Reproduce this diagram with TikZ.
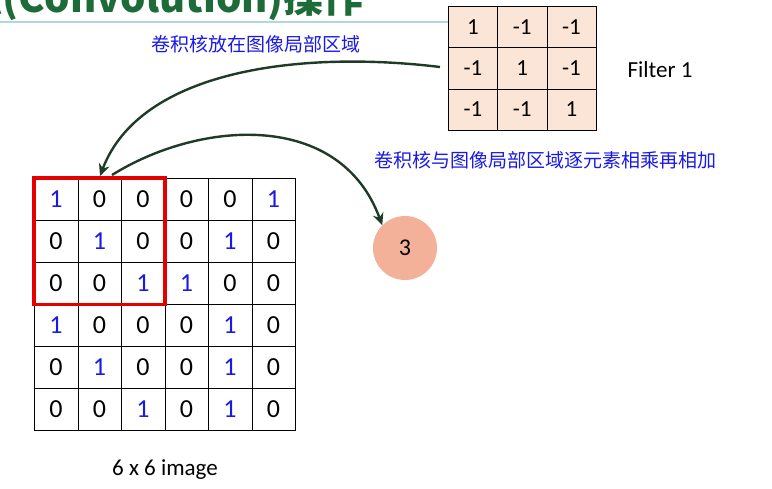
\documentclass[tikz,border=0pt]{standalone}
\usepackage{fontspec}
\setmainfont{Carlito}
\newfontfamily\cjk{Noto Sans CJK SC}
\usetikzlibrary{arrows.meta}
\definecolor{bl}{HTML}{1A1AE6}
\definecolor{pe}{HTML}{FBE5D6}
\definecolor{ci}{HTML}{F4B19A}
\definecolor{ar}{HTML}{1E3B28}
\definecolor{tg}{HTML}{1E6B3A}
\begin{document}
\begin{tikzpicture}[x=1pt,y=-1pt,
  cell/.style={draw,minimum width=43.5pt,minimum height=42pt,inner sep=0pt,font=\fontsize{26}{26}\selectfont,anchor=north west},
  fcell/.style={draw,fill=pe,minimum width=49.3pt,minimum height=41.3pt,inner sep=0pt,font=\fontsize{23}{23}\selectfont,anchor=north west},
  lab/.style={text=bl,font=\cjk\fontsize{19}{19}\selectfont},
  arr/.style={draw=ar,line width=2.4pt,-{Stealth[length=12pt,width=11pt]}}]
\useasboundingbox (0,0) rectangle (772,488);
\begin{scope}
\clip (0,0) rectangle (772,488);
\node[anchor=base west,text=tg,font=\cjk\bfseries\fontsize{40}{40}\selectfont,inner sep=0pt] (title) at (-38,12) {积(Convolution)操作};
\end{scope}
\draw[draw=teal!30,line width=2pt] (0,22) -- (460,22);
\foreach \r/\row in {0/{1,0,0,0,0,1},1/{0,1,0,0,1,0},2/{0,0,1,1,0,0},3/{1,0,0,0,1,0},4/{0,1,0,0,1,0},5/{0,0,1,0,1,0}}{
  \foreach \v [count=\c from 0] in \row {
    \ifnum\v=1
      \node[cell,text=bl] (g\r\c) at (34+43.5*\c,178+42*\r) {\v};
    \else
      \node[cell] (g\r\c) at (34+43.5*\c,178+42*\r) {\v};
    \fi
  }
}
\draw[red!90!black,line width=3.5pt] (g00.north west) rectangle (g22.south east);
\foreach \r/\row in {0/{1,-1,-1},1/{-1,1,-1},2/{-1,-1,1}}{
  \foreach \v [count=\c from 0] in \row {
    \node[fcell] (f\r\c) at (448+49.3*\c,6+41.3*\r) {\v};
  }
}
\node[font=\fontsize{23}{23}\selectfont] (flab) at (660,70) {Filter 1};
\node[circle,fill=ci,minimum size=64pt,inner sep=0pt] (res) at (405,248) {\fontsize{24}{24}\selectfont 3};
\node[lab] (l1) at (256,44) {卷积核放在图像局部区域};
\node[lab] (l2) at (545,160) {卷积核与图像局部区域逐元素相乘再相加};
\node[font=\fontsize{23}{23}\selectfont] (cap) at (165,470) {6 x 6 image};
\coordinate (s1) at (440,67);
\coordinate (e1) at (100,176);
\draw[arr] (s1) .. controls (300,50) and (140,70) .. (e1);
\coordinate (s2) at (112,175);
\draw[arr] (s2) .. controls (200,120) and (340,110) .. (res.north west);
\end{tikzpicture}
\end{document}
